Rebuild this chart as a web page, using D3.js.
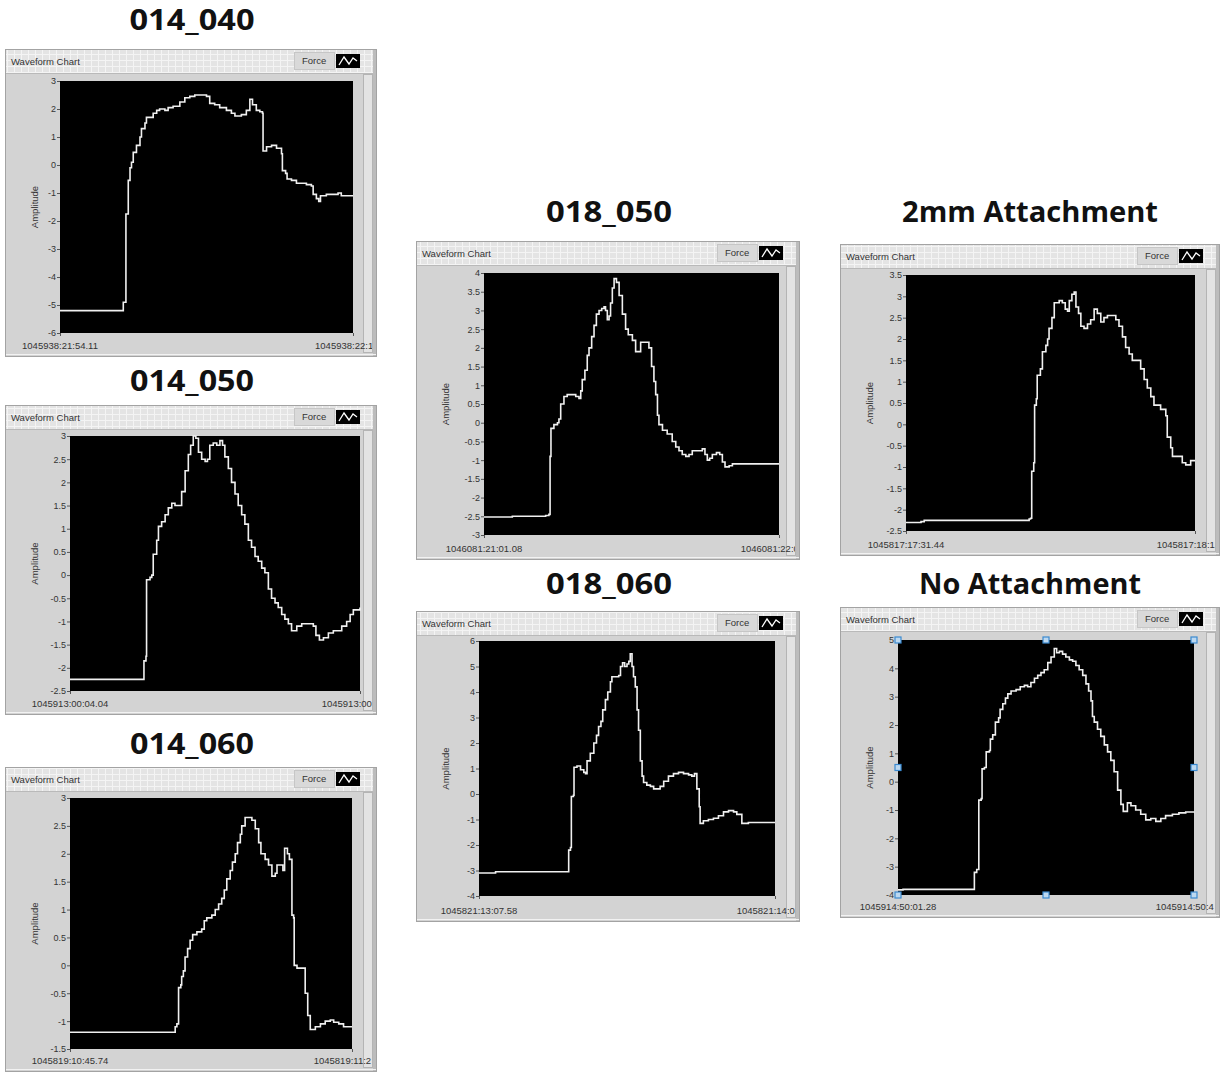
<!DOCTYPE html>
<html>
<head>
<meta charset="utf-8">
<script src="https://cdn.jsdelivr.net/npm/d3@7"></script>
<style>
  body { margin: 0; background: #fff; }
  svg text { font-family: "Liberation Sans", Arial, sans-serif; }
  .title { font-family: "Open Sans", sans-serif; font-weight: 700; font-size: 28px; fill: #111; }
</style>
</head>
<body>
<svg id="chart" width="1225" height="1074"></svg>
<script>
// time is % of the chart window, values are Force amplitude

var t_014_040 = [0,21.6,21.6,22.5,22.5,23.3,23.3,23.9,24.4,25,26.1,27.3,27.8,29,29.5,31.3,31.8,33,34,35.8,36.9,38.6,40.9,42.6,44.3,46,48.9,50,51.1,52.8,54.5,56.8,58.5,59.7,61.9,63.6,64.8,65.7,67,68.2,69.1,69.3,70.5,72.2,73.9,75.6,75.9,77,77.5,79,80.7,84.1,85.8,86.4,87.5,88.3,88.9,90.9,94.9,96,100];
var v_014_040 = [-5.2,-5.2,-4.9,-4.9,-1.75,-1.75,-0.55,-0.1,0.1,0.45,0.7,1.0,1.3,1.5,1.7,1.7,1.85,1.95,2.0,1.95,2.05,2.1,2.25,2.4,2.45,2.5,2.5,2.45,2.2,2.15,2.05,1.95,1.85,1.75,1.8,1.95,2.35,2.15,1.95,1.9,1.85,0.5,0.65,0.7,0.6,0.4,-0.2,-0.3,-0.5,-0.55,-0.65,-0.7,-0.75,-1.05,-1.2,-1.3,-1.1,-1.05,-1.0,-1.1,-1.1];

var t_014_050 = [0,25.5,25.5,26.2,26.4,27.6,28.2,28.7,29.9,30.5,31.6,32.8,33.9,35.1,36.2,37.9,38.5,39.7,40.8,41.6,42.5,43.4,44.3,45.4,46.6,47.4,48.2,49.4,50.6,51.7,52.6,53.4,54.6,55.7,56.9,58,59.2,60.3,61.5,62.6,63.8,64.9,66.1,67.2,68.4,69.5,70.7,71.8,73,74.1,75.3,76.4,77.6,78.2,79.9,82.2,83.9,84.8,86,87.4,89.1,90.8,92.5,93.7,95.4,96.6,97.7,100];
var v_014_050 = [-2.25,-2.25,-1.85,-1.75,-0.1,-0.05,0,0.45,0.75,1.05,1.15,1.3,1.45,1.55,1.5,1.5,1.8,2.25,2.6,2.8,3.0,2.95,2.65,2.5,2.45,2.5,2.8,2.85,2.8,2.9,2.8,2.55,2.3,2.0,1.75,1.5,1.3,1.1,0.75,0.6,0.4,0.3,0.15,0.05,-0.3,-0.5,-0.6,-0.7,-0.85,-0.95,-1.05,-1.2,-1.2,-1.1,-1.05,-1.05,-1.1,-1.3,-1.4,-1.35,-1.25,-1.2,-1.2,-1.1,-1.0,-0.85,-0.75,-0.7];

var t_014_060 = [0,36.7,37.3,37.9,38.5,39.3,39.6,40.2,40.8,41.7,42.6,43.5,45,46.7,47.6,48.5,50.3,51.5,52.7,53.8,54.7,55.6,56.8,57.6,58.6,59.4,60.4,60.9,62.1,63.3,64.5,65.7,66.9,67.7,69.2,70.4,71.6,72.8,73.4,74.6,75.5,76.1,77.1,77.8,78.7,79.3,79.5,80.5,81.7,83.1,83.4,84.3,85.2,87,88.8,90.5,92.3,93.5,95.3,97,100];
var v_014_060 = [-1.2,-1.2,-1.1,-1.05,-0.4,-0.35,-0.2,-0.1,0.15,0.3,0.45,0.55,0.6,0.65,0.8,0.85,0.9,1.0,1.1,1.2,1.35,1.55,1.7,1.85,2.0,2.2,2.35,2.5,2.65,2.65,2.6,2.45,2.2,2.0,1.9,1.8,1.6,1.65,1.8,1.8,1.7,2.1,2.0,1.9,0.9,0.85,0.0,-0.05,-0.05,-0.05,-0.5,-0.9,-1.15,-1.1,-1.05,-1.0,-0.98,-1.02,-1.05,-1.1,-1.1];

var t_018_050 = [0,9.6,20.9,22,22.4,22.7,23.7,24.9,25.4,26,27.1,28.2,29.9,31.1,32.2,32.8,33.3,34.2,35,35.6,36.5,37.3,38.1,39,39.9,40.7,41.2,41.8,42.4,42.9,43.5,44.1,44.9,45.8,46.9,48,48.9,50.3,51.4,52.5,53.1,55.4,55.9,56.8,57.6,58.2,58.8,59.3,60.5,62.1,63.8,65,66.1,67.2,68.4,69.5,70.6,72.3,74,74.9,75.7,76.5,77.4,78.8,79.9,80.8,81.7,83.1,84.2,100];
var v_018_050 = [-2.52,-2.5,-2.48,-2.45,-0.9,-0.15,-0.05,0.0,0.1,0.5,0.7,0.75,0.75,0.7,0.65,0.85,1.15,1.4,1.8,2.0,2.3,2.6,2.9,3.0,3.05,3.1,3.0,2.75,2.85,3.2,3.6,3.85,3.75,3.4,2.9,2.5,2.35,2.2,1.9,1.9,2.15,2.15,2.0,1.5,1.1,0.75,0.2,-0.05,-0.2,-0.3,-0.5,-0.65,-0.75,-0.85,-0.9,-0.85,-0.75,-0.75,-0.7,-0.85,-1.0,-0.95,-0.85,-0.8,-0.85,-1.05,-1.18,-1.15,-1.1,-1.1];

var t_018_060 = [0,5.6,30.3,30.9,31.2,31.9,32.1,33.1,34.3,35.4,36,36.5,37.6,38.8,39.7,40.4,41.2,41.8,42.7,43.5,44.4,44.9,46.6,47.2,47.8,48.5,49.2,50,50.6,51.1,51.7,52.2,52.8,53.4,53.9,54.5,55.1,55.6,56.7,57.9,59,60.1,61.2,62.4,64,65.7,67.4,69.1,70.8,71.9,72.8,73.6,74.4,74.7,75.8,77.5,79.2,80.9,82.6,84.3,86,87.1,88.2,88.8,89.9,91,100];
var v_018_060 = [-3.1,-3.05,-2.2,-2.1,-0.1,-0.05,1.05,1.1,0.95,0.85,0.8,1.3,1.6,2.0,2.3,2.65,2.85,3.3,3.7,4.0,4.4,4.6,4.6,4.65,5.0,5.15,5.0,5.1,5.2,5.5,5.0,4.6,4.2,3.3,2.5,1.3,0.7,0.45,0.35,0.3,0.2,0.2,0.3,0.5,0.7,0.8,0.85,0.8,0.75,0.7,0.8,0.2,-0.5,-1.15,-1.05,-1.0,-0.95,-0.85,-0.7,-0.65,-0.7,-0.8,-0.8,-1.15,-1.15,-1.12,-1.12];

var t_2mm = [0,5.2,6.3,42.6,43.1,43.5,44.2,44.5,45.1,45.4,46.5,47.2,48.4,49,49.5,50.5,51.3,53,54.1,55.1,55.9,56.5,57.4,58.2,58.8,59.7,60.5,61.6,62.8,63.9,65.1,66.2,67.4,68.5,69.7,71.4,72.6,73.7,74.9,76,77.2,78.3,80.1,81.2,82.4,83.5,84.7,85.8,87,88.1,89.9,90.4,91.6,92.2,93.9,95.6,96.8,98.5,100];
var v_2mm = [-2.3,-2.28,-2.25,-2.22,-2.2,-1.1,-0.9,0.45,0.6,1.15,1.3,1.7,1.85,2.0,2.25,2.5,2.85,2.9,2.85,2.7,2.65,2.9,3.05,3.1,2.75,2.6,2.3,2.25,2.35,2.45,2.7,2.6,2.4,2.5,2.55,2.55,2.45,2.3,2.05,1.8,1.65,1.5,1.5,1.3,1.05,0.85,0.65,0.45,0.45,0.35,0.2,-0.3,-0.55,-0.75,-0.75,-0.9,-0.95,-0.85,-0.85];

var t_none = [0,1.7,25.8,26.6,27.3,28.1,28.4,29.2,29.8,30.9,31.2,32,32.9,34,34.5,35.4,36.3,37.1,38.2,39.9,41.3,42.7,43.8,44.9,46.1,47.2,48.3,49.4,50.6,51.7,52.8,53.6,54.5,55.6,56.7,57.9,59,60.1,61.2,62.4,63.5,64.4,65.2,65.7,66.3,67.4,68.5,69.7,70.8,71.9,73,74.2,75.3,76.1,77,77.5,78.7,80.3,82,83.7,85.4,87.1,88.8,90.4,92.7,94.9,97.2,100];
var v_none = [-3.82,-3.8,-3.2,-3.1,-0.65,-0.6,0.45,0.5,1.05,1.1,1.5,1.65,2.1,2.25,2.55,2.75,2.95,3.1,3.2,3.25,3.35,3.4,3.35,3.5,3.65,3.75,3.85,3.95,4.2,4.4,4.7,4.55,4.6,4.5,4.4,4.3,4.25,4.1,3.95,3.75,3.45,3.2,2.85,2.3,2.1,1.85,1.6,1.3,1.05,0.75,0.35,-0.3,-0.8,-1.05,-1.05,-0.75,-0.85,-1.0,-1.15,-1.35,-1.3,-1.4,-1.3,-1.2,-1.15,-1.1,-1.07,-1.05];

// y tick labels of each chart
var ticks_014_040 = [3,2,1,0,-1,-2,-3,-4,-5,-6];
var ticks_014_050 = [3,2.5,2,1.5,1,0.5,0,-0.5,-1,-1.5,-2,-2.5];
var ticks_014_060 = [3,2.5,2,1.5,1,0.5,0,-0.5,-1,-1.5];
var ticks_018_050 = [4,3.5,3,2.5,2,1.5,1,0.5,0,-0.5,-1,-1.5,-2,-2.5,-3];
var ticks_018_060 = [6,5,4,3,2,1,0,-1,-2,-3,-4];
var ticks_2mm = [3.5,3,2.5,2,1.5,1,0.5,0,-0.5,-1,-1.5,-2,-2.5];
var ticks_none = [5,4,3,2,1,0,-1,-2,-3,-4];

var titles = ["014_040","014_050","014_060","018_050","018_060","2mm Attachment","No Attachment"];
var startLabels = ["1045938:21:54.11","1045913:00:04.04","1045819:10:45.74","1046081:21:01.08","1045821:13:07.58","1045817:17:31.44","1045914:50:01.28"];
var endLabels = ["1045938:22:1","1045913:00:1","1045819:11:2","1046081:22:0","1045821:14:0","1045817:18:1","1045914:50:4"];

// layout of each panel: title centre/baseline/width, outer box, plot area
var layout = [
  {tx:192, ty:30, tw:125, box:[5,49,377,357], plot:[60,81,353,333]},
  {tx:192, ty:391, tw:124, box:[5,405,377,715], plot:[70,436,360,691]},
  {tx:192, ty:754, tw:124, box:[5,767,377,1072], plot:[70,798,352,1049]},
  {tx:609, ty:222, tw:126, box:[416,241,800,560], plot:[484,273,779,535]},
  {tx:609, ty:594, tw:126, box:[416,611,800,922], plot:[479,641,775,896]},
  {tx:1030, ty:222, tw:256, box:[840,244,1220,556], plot:[906,275,1195,531]},
  {tx:1030, ty:594, tw:222, box:[840,607,1220,918], plot:[898,640,1194,895], handles:true}
];

var series = [
  [t_014_040, v_014_040, ticks_014_040],
  [t_014_050, v_014_050, ticks_014_050],
  [t_014_060, v_014_060, ticks_014_060],
  [t_018_050, v_018_050, ticks_018_050],
  [t_018_060, v_018_060, ticks_018_060],
  [t_2mm, v_2mm, ticks_2mm],
  [t_none, v_none, ticks_none]
];

var svg = d3.select("#chart");
var defs = svg.append("defs");

// faint grid on the chart header
var pat = defs.append("pattern")
  .attr("id", "hdrGrid")
  .attr("width", 7)
  .attr("height", 6)
  .attr("patternUnits", "userSpaceOnUse");
pat.append("rect").attr("width", 7).attr("height", 6).attr("fill", "#e4e4e4");
pat.append("path").attr("d", "M0,0.5H7M0.5,0V6").attr("stroke", "#f4f4f4").attr("stroke-width", 1);

function drawPanel(i) {
  var L = layout[i];
  var t = series[i][0], v = series[i][1], ticks = series[i][2];
  var bx0 = L.box[0], by0 = L.box[1], bx1 = L.box[2], by1 = L.box[3];
  var px0 = L.plot[0], py0 = L.plot[1], px1 = L.plot[2], py1 = L.plot[3];

  // title above the panel
  svg.append("text")
    .attr("class", "title")
    .attr("x", L.tx)
    .attr("y", L.ty)
    .attr("text-anchor", "middle")
    .attr("textLength", L.tw)
    .attr("lengthAdjust", "spacingAndGlyphs")
    .text(titles[i]);

  var g = svg.append("g");

  var clipId = "clip" + i;
  defs.append("clipPath").attr("id", clipId)
    .append("rect")
    .attr("x", bx0).attr("y", by0)
    .attr("width", bx1 - bx0 - 5).attr("height", by1 - by0);

  // panel body
  g.append("rect")
    .attr("x", bx0 + 0.5).attr("y", by0 + 0.5)
    .attr("width", bx1 - bx0 - 1).attr("height", by1 - by0 - 1)
    .attr("fill", "#d3d3d3")
    .attr("stroke", "#a3a3a3");

  // header strip
  g.append("rect")
    .attr("x", bx0 + 1).attr("y", by0 + 1)
    .attr("width", bx1 - bx0 - 2).attr("height", 23)
    .attr("fill", "url(#hdrGrid)");
  g.append("line")
    .attr("x1", bx0 + 1).attr("x2", bx1 - 1)
    .attr("y1", by0 + 24.5).attr("y2", by0 + 24.5)
    .attr("stroke", "#b9b9b9");

  // scroll strip on the right
  g.append("rect")
    .attr("x", bx1 - 13.5).attr("y", by0 + 25.5)
    .attr("width", 9).attr("height", by1 - by0 - 30)
    .attr("fill", "#e3e3e3")
    .attr("stroke", "#b4b4b4");
  g.append("rect")
    .attr("x", bx1 - 4).attr("y", by0 + 1)
    .attr("width", 3).attr("height", by1 - by0 - 2)
    .attr("fill", "#bcbcbc");

  // bottom edge
  g.append("line")
    .attr("x1", bx0 + 1).attr("x2", bx1 - 1)
    .attr("y1", by1 - 2.5).attr("y2", by1 - 2.5)
    .attr("stroke", "#f2f2f2");

  g.append("text")
    .attr("x", bx0 + 6).attr("y", by0 + 16)
    .attr("font-size", 9.5)
    .attr("fill", "#333")
    .text("Waveform Chart");

  // legend "Force"
  g.append("rect")
    .attr("x", bx1 - 82.5).attr("y", by0 + 3.5)
    .attr("width", 40).attr("height", 17)
    .attr("fill", "#d9d9d9")
    .attr("stroke", "#c6c6c6");
  g.append("text")
    .attr("x", bx1 - 75).attr("y", by0 + 15)
    .attr("font-size", 9.5)
    .attr("fill", "#333")
    .text("Force");
  g.append("rect")
    .attr("x", bx1 - 41).attr("y", by0 + 5)
    .attr("width", 24).attr("height", 14)
    .attr("fill", "#000");
  g.append("path")
    .attr("d", "M" + (bx1 - 38) + "," + (by0 + 16) +
      " L" + (bx1 - 33) + "," + (by0 + 8) +
      " L" + (bx1 - 28) + "," + (by0 + 15) +
      " L" + (bx1 - 24) + "," + (by0 + 9) +
      " L" + (bx1 - 20) + "," + (by0 + 12))
    .attr("fill", "none")
    .attr("stroke", "#fff")
    .attr("stroke-width", 1.3);

  // plot area
  g.append("rect")
    .attr("x", px0).attr("y", py0)
    .attr("width", px1 - px0).attr("height", py1 - py0)
    .attr("fill", "#000");

  var x = d3.scaleLinear().domain([0, 100]).range([px0, px1]);
  var y = d3.scaleLinear().domain([d3.min(ticks), d3.max(ticks)]).range([py1, py0]);

  var yAxis = g.append("g")
    .attr("transform", "translate(" + px0 + ",0)")
    .call(d3.axisLeft(y).tickValues(ticks).tickSize(3).tickPadding(1).tickFormat(function(d) { return String(d); }));
  yAxis.select(".domain").remove();
  yAxis.selectAll("text").attr("font-size", 9).attr("fill", "#333").attr("font-family", "Liberation Sans, Arial, sans-serif");
  yAxis.selectAll("line").attr("stroke", "#555");

  var xAxis = g.append("g")
    .attr("transform", "translate(0," + py1 + ")")
    .call(d3.axisBottom(x).tickValues([0, 100]).tickSize(3).tickFormat(""));
  xAxis.select(".domain").remove();
  xAxis.selectAll("line").attr("stroke", "#555");

  g.append("text")
    .attr("transform", "translate(" + (bx0 + 33) + "," + ((py0 + py1) / 2) + ") rotate(-90)")
    .attr("text-anchor", "middle")
    .attr("font-size", 9.5)
    .attr("fill", "#333")
    .text("Amplitude");

  // time stamps under the plot
  var startText = g.append("text")
    .attr("x", px0).attr("y", by1 - 8)
    .attr("text-anchor", "middle")
    .attr("font-size", 9.5)
    .attr("fill", "#333")
    .text(startLabels[i]);
  var w = startText.node().getComputedTextLength();
  g.append("text")
    .attr("clip-path", "url(#" + clipId + ")")
    .attr("x", px1 - w / 2).attr("y", by1 - 8)
    .attr("font-size", 9.5)
    .attr("fill", "#333")
    .text(endLabels[i]);

  // the Force trace
  var line = d3.line()
    .x(function(d) { return x(d[0]); })
    .y(function(d) { return y(d[1]); })
    .curve(d3.curveStepAfter);

  g.append("path")
    .datum(d3.zip(t, v))
    .attr("d", line)
    .attr("fill", "none")
    .attr("stroke", "#f0f0f0")
    .attr("stroke-width", 1.6);

  // selection handles (only on the last chart)
  if (L.handles) {
    var hx = [px0, (px0 + px1) / 2, px1];
    var hy = [py0, (py0 + py1) / 2, py1];
    var pts = [];
    hx.forEach(function(a, ia) {
      hy.forEach(function(b, ib) {
        if (!(ia === 1 && ib === 1)) pts.push([a, b]);
      });
    });
    g.selectAll(".handle")
      .data(pts)
      .enter()
      .append("rect")
      .attr("class", "handle")
      .attr("x", function(d) { return d[0] - 3; })
      .attr("y", function(d) { return d[1] - 3; })
      .attr("width", 6).attr("height", 6)
      .attr("fill", "#bcd8f0")
      .attr("stroke", "#3b8ad0")
      .attr("stroke-width", 1.2);
  }
}

for (var i = 0; i < layout.length; i++) {
  drawPanel(i);
}
</script>
</body>
</html>
